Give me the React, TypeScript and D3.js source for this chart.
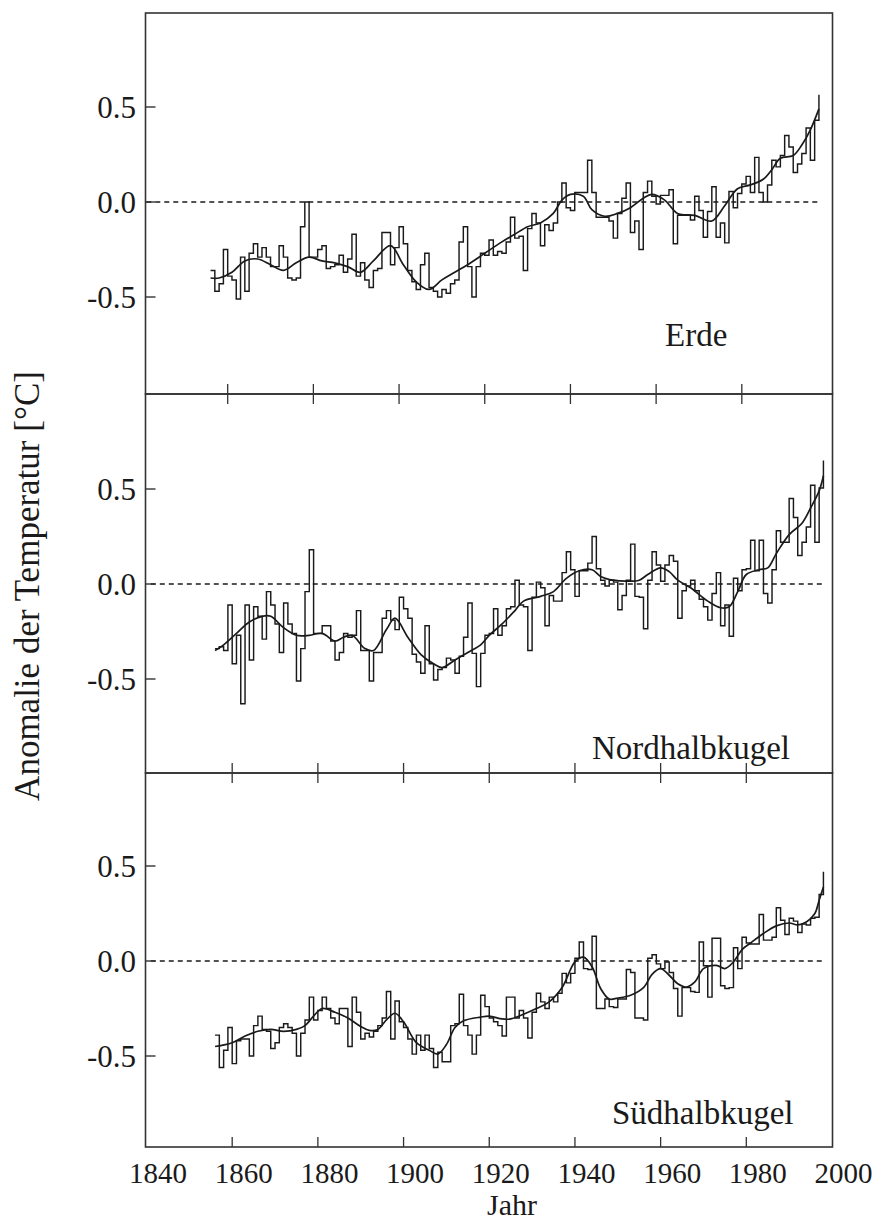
import React from 'react';
import * as d3 from 'd3';

const startYear = 1856;

// Annual anomalies (°C), 1856–1998
const globalValues = [
  -0.36, -0.47, -0.43, -0.25,
  -0.39, -0.41, -0.51, -0.29, -0.47, -0.27, -0.22, -0.29, -0.24, -0.29,
  -0.34, -0.34, -0.23, -0.29, -0.40, -0.41, -0.40, -0.13, 0.00, -0.29,
  -0.29, -0.25, -0.23, -0.35, -0.34, -0.33, -0.28, -0.37, -0.30, -0.17,
  -0.39, -0.32, -0.41, -0.45, -0.36, -0.35, -0.16, -0.16, -0.33, -0.24,
  -0.13, -0.22, -0.36, -0.42, -0.46, -0.33, -0.27, -0.45, -0.47, -0.50,
  -0.46, -0.48, -0.43, -0.41, -0.21, -0.13, -0.34, -0.50, -0.34, -0.27,
  -0.28, -0.20, -0.28, -0.26, -0.27, -0.21, -0.08, -0.19, -0.18, -0.36,
  -0.14, -0.06, -0.11, -0.23, -0.12, -0.15, -0.11, 0.00, 0.10, -0.03,
  -0.045, 0.05, 0.05, 0.05, 0.22, 0.05, -0.08, -0.08, -0.08, -0.10,
  -0.19, -0.06, 0.02, 0.10, -0.16, -0.10, -0.25, 0.05, 0.11, 0.03,
  -0.01, 0.035, 0.035, 0.065, -0.22, -0.07, -0.07, -0.07, -0.095, 0.03,
  -0.045, -0.185, -0.05, 0.08, -0.185, -0.11, -0.215, 0.055, -0.03, 0.045,
  0.095, 0.135, 0.05, 0.235, 0.05, 0.00, 0.09, 0.22, 0.185, 0.245,
  0.35, 0.29, 0.155, 0.20, 0.255, 0.39, 0.22, 0.43, 0.565,
];

const northValues = [
  -0.34, -0.33, -0.35, -0.11,
  -0.42, -0.27, -0.63, -0.11, -0.40, -0.12, -0.17, -0.29, -0.04, -0.11,
  -0.21, -0.36, -0.10, -0.21, -0.26, -0.51, -0.34, -0.04, 0.18, -0.26,
  -0.26, -0.22, -0.22, -0.30, -0.40, -0.36, -0.26, -0.28, -0.27, -0.14,
  -0.35, -0.35, -0.51, -0.36, -0.36, -0.18, -0.14, -0.19, -0.24, -0.07,
  -0.13, -0.18, -0.37, -0.41, -0.47, -0.22, -0.42, -0.505, -0.45, -0.44,
  -0.39, -0.40, -0.47, -0.38, -0.28, -0.10, -0.365, -0.54, -0.365, -0.27,
  -0.26, -0.13, -0.27, -0.22, -0.13, -0.12, 0.02, -0.11, -0.12, -0.35,
  -0.07, 0.01, -0.02, -0.22, -0.06, -0.09, -0.09, 0.06, 0.17, 0.075,
  -0.065, 0.07, 0.07, 0.11, 0.25, 0.08, 0.02, -0.01, 0.02, 0.01,
  -0.135, -0.06, 0.02, 0.21, -0.065, -0.07, -0.235, 0.02, 0.17, 0.10,
  0.015, 0.10, 0.15, 0.12, -0.18, -0.035, -0.01, 0.02, -0.035, -0.08,
  -0.12, -0.19, -0.05, 0.06, -0.22, -0.11, -0.275, 0.03, -0.035, 0.075,
  0.08, 0.23, 0.07, 0.23, -0.05, -0.10, 0.075, 0.28, 0.22, 0.22,
  0.45, 0.35, 0.15, 0.22, 0.30, 0.52, 0.22, 0.505, 0.65,
];

const southValues = [
  -0.39, -0.56, -0.47, -0.35,
  -0.54, -0.42, -0.41, -0.41, -0.50, -0.34, -0.29, -0.36, -0.37, -0.46,
  -0.43, -0.35, -0.33, -0.35, -0.38, -0.50, -0.38, -0.31, -0.19, -0.31,
  -0.26, -0.19, -0.25, -0.30, -0.33, -0.25, -0.25, -0.45, -0.19, -0.27,
  -0.41, -0.38, -0.40, -0.37, -0.34, -0.30, -0.16, -0.41, -0.21, -0.32,
  -0.35, -0.41, -0.49, -0.39, -0.47, -0.39, -0.46, -0.56, -0.48, -0.53,
  -0.53, -0.34, -0.33, -0.175, -0.34, -0.39, -0.49, -0.39, -0.18, -0.24,
  -0.30, -0.32, -0.34, -0.395, -0.19, -0.19, -0.30, -0.26, -0.30, -0.405,
  -0.27, -0.17, -0.215, -0.25, -0.19, -0.215, -0.17, -0.065, -0.115, -0.065,
  0.015, 0.10, -0.04, -0.045, 0.13, -0.25, -0.25, -0.20, -0.24, -0.245,
  -0.20, -0.20, -0.045, -0.06, -0.30, -0.30, -0.31, 0.015, 0.033, -0.015,
  -0.04, -0.005, -0.06, -0.145, -0.29, -0.14, -0.14, -0.16, -0.165, 0.10,
  -0.025, -0.19, 0.12, 0.12, -0.13, -0.145, -0.14, 0.07, -0.04, 0.125,
  0.095, 0.09, 0.09, 0.245, 0.11, 0.11, 0.125, 0.28, 0.215, 0.14,
  0.225, 0.21, 0.15, 0.195, 0.19, 0.225, 0.23, 0.35, 0.47,
];

// Smoothed curves
const globalSmoothYears = [1856, 1858, 1861, 1864, 1867, 1870, 1873, 1876, 1879, 1882, 1885, 1888, 1891, 1894, 1898, 1901, 1904, 1907, 1910, 1913, 1916, 1920, 1924, 1927, 1930, 1933, 1936, 1938, 1940, 1943, 1945, 1948, 1951, 1954, 1957, 1959, 1962, 1965, 1969, 1973, 1976, 1979, 1982, 1985, 1987, 1989, 1992, 1994, 1996, 1998];
const globalSmoothValues = [-0.40, -0.40, -0.37, -0.31, -0.30, -0.33, -0.36, -0.32, -0.29, -0.31, -0.32, -0.34, -0.37, -0.31, -0.23, -0.33, -0.42, -0.46, -0.41, -0.37, -0.33, -0.27, -0.21, -0.17, -0.13, -0.11, -0.06, 0.01, 0.04, 0.03, -0.04, -0.075, -0.06, -0.03, 0.02, 0.04, 0.01, -0.06, -0.07, -0.10, -0.02, 0.07, 0.09, 0.12, 0.17, 0.23, 0.245, 0.30, 0.38, 0.49];

const northSmoothYears = [1856, 1858, 1861, 1864, 1867, 1869, 1872, 1875, 1878, 1881, 1884, 1886, 1888, 1891, 1893, 1896, 1898, 1901, 1904, 1907, 1909, 1912, 1915, 1918, 1920, 1923, 1926, 1928, 1932, 1935, 1938, 1941, 1944, 1946, 1949, 1952, 1955, 1957, 1960, 1962, 1964, 1967, 1971, 1974, 1976, 1978, 1980, 1983, 1985, 1987, 1990, 1993, 1995, 1997, 1998];
const northSmoothValues = [-0.35, -0.32, -0.26, -0.20, -0.17, -0.17, -0.23, -0.27, -0.27, -0.26, -0.30, -0.28, -0.27, -0.34, -0.35, -0.24, -0.18, -0.28, -0.37, -0.42, -0.44, -0.40, -0.36, -0.32, -0.27, -0.21, -0.14, -0.09, -0.065, -0.04, 0.03, 0.07, 0.075, 0.04, 0.02, 0.015, 0.02, 0.05, 0.085, 0.065, 0.02, -0.02, -0.09, -0.125, -0.12, -0.04, 0.05, 0.075, 0.085, 0.16, 0.26, 0.32, 0.40, 0.49, 0.57];

const southSmoothYears = [1856, 1860, 1863, 1866, 1869, 1872, 1875, 1877, 1879, 1881, 1884, 1887, 1890, 1892, 1894, 1896, 1898, 1900, 1903, 1906, 1908, 1910, 1912, 1914, 1918, 1920, 1923, 1925, 1928, 1931, 1934, 1937, 1940, 1942, 1944, 1946, 1948, 1950, 1953, 1956, 1958, 1960, 1962, 1964, 1966, 1968, 1970, 1973, 1975, 1977, 1979, 1981, 1984, 1987, 1990, 1992, 1994, 1996, 1997, 1998];
const southSmoothValues = [-0.45, -0.43, -0.395, -0.37, -0.36, -0.37, -0.36, -0.34, -0.29, -0.25, -0.27, -0.30, -0.345, -0.365, -0.36, -0.31, -0.275, -0.32, -0.43, -0.47, -0.49, -0.44, -0.35, -0.315, -0.295, -0.29, -0.305, -0.305, -0.28, -0.25, -0.215, -0.14, -0.005, 0.02, -0.03, -0.145, -0.20, -0.195, -0.18, -0.14, -0.07, -0.04, -0.075, -0.12, -0.137, -0.11, -0.04, -0.023, -0.04, -0.005, 0.06, 0.095, 0.145, 0.185, 0.20, 0.19, 0.205, 0.25, 0.32, 0.39];

const panelNames = ['Erde', 'Nordhalbkugel', 'Südhalbkugel'];
const yTickValues = [0.5, 0.0, -0.5];
const yTickLabels = ['0.5', '0.0', '-0.5'];
const innerTickYears = [1860, 1880, 1900, 1920, 1940, 1960, 1980];
const xLabelYears = [1840, 1860, 1880, 1900, 1920, 1940, 1960, 1980, 2000];

const FONT = '"Liberation Serif", "Times New Roman", serif';
const INK = '#1a1a1a';

// layout
const frameLeft = 145.5;
const frameRight = 832.5;
const panelTop = [13, 394, 773];
const panelBottom = [394, 773, 1147];
const zeroY = [202, 584, 961];
const halfUnit = 95; // px per 0.5 °C
const panelShift = [-4, 0.5, 0.5];
const labelX = [665, 592, 612];
const labelY = [346, 759, 1124];

export default function App() {
  const seriesList = [globalValues, northValues, southValues];
  const smoothYears = [globalSmoothYears, northSmoothYears, southSmoothYears];
  const smoothValues = [globalSmoothValues, northSmoothValues, southSmoothValues];

  const x = d3.scaleLinear().domain([1840, 2000]).range([146, 831.5]);

  return (
    <svg
      width={872}
      height={1225}
      viewBox="0 0 872 1225"
      style={{ position: 'absolute', left: 0, top: 0, background: '#fff' }}
    >
      <rect x={0} y={0} width={872} height={1225} fill="#fff" />
      {seriesList.map((vals, p) => {
        const y = d3
          .scaleLinear()
          .domain([-0.5, 0.5])
          .range([zeroY[p] + halfUnit, zeroY[p] - halfUnit]);
        const xs = (yr: number) => x(yr) + panelShift[p];
        const step = d3
          .line<number>()
          .x((_, i) => xs(startYear + i))
          .y((d) => y(d))
          .curve(d3.curveStepAfter);
        const sYears = smoothYears[p];
        const smooth = d3
          .line<number>()
          .x((_, i) => xs(sYears[i]))
          .y((d) => y(d))
          .curve(d3.curveCatmullRom.alpha(0.5));
        const isLast = p === seriesList.length - 1;
        return (
          <g key={p}>
            <rect
              x={frameLeft}
              y={panelTop[p]}
              width={frameRight - frameLeft}
              height={panelBottom[p] - panelTop[p]}
              fill="none"
              stroke="#333"
              strokeWidth={1.6}
            />
            <line
              x1={xs(1841)}
              x2={xs(1998.5)}
              y1={y(0)}
              y2={y(0)}
              stroke={INK}
              strokeWidth={1.5}
              strokeDasharray="5,4"
            />
            {yTickValues.map((v, i) => (
              <g key={i}>
                <line
                  x1={frameLeft}
                  x2={frameLeft + 10}
                  y1={y(v)}
                  y2={y(v)}
                  stroke="#333"
                  strokeWidth={1.4}
                />
                <text
                  x={136}
                  y={y(v)}
                  dy="0.35em"
                  textAnchor="end"
                  fontFamily={FONT}
                  fontSize={31}
                  fill={INK}
                >
                  {yTickLabels[i]}
                </text>
              </g>
            ))}
            {innerTickYears.map((t) => (
              <line
                key={t}
                x1={xs(t)}
                x2={xs(t)}
                y1={panelBottom[p] - 10}
                y2={isLast ? panelBottom[p] : panelBottom[p] + 10}
                stroke="#333"
                strokeWidth={1.3}
              />
            ))}
            <path d={step(vals) || ''} fill="none" stroke={INK} strokeWidth={1.45} />
            <path d={smooth(smoothValues[p]) || ''} fill="none" stroke={INK} strokeWidth={1.7} />
            <text x={labelX[p]} y={labelY[p]} fontFamily={FONT} fontSize={33} fill={INK}>
              {panelNames[p]}
            </text>
          </g>
        );
      })}
      {xLabelYears.map((t) => (
        <text
          key={t}
          x={x(t) + 12}
          y={1183}
          textAnchor="middle"
          fontFamily={FONT}
          fontSize={29}
          fill={INK}
        >
          {t}
        </text>
      ))}
      <text x={512} y={1215} textAnchor="middle" fontFamily={FONT} fontSize={30} fill={INK}>
        Jahr
      </text>
      <text
        transform="translate(39,586) rotate(-90)"
        textAnchor="middle"
        fontFamily={FONT}
        fontSize={35}
        fill={INK}
      >
        Anomalie der Temperatur [°C]
      </text>
    </svg>
  );
}
